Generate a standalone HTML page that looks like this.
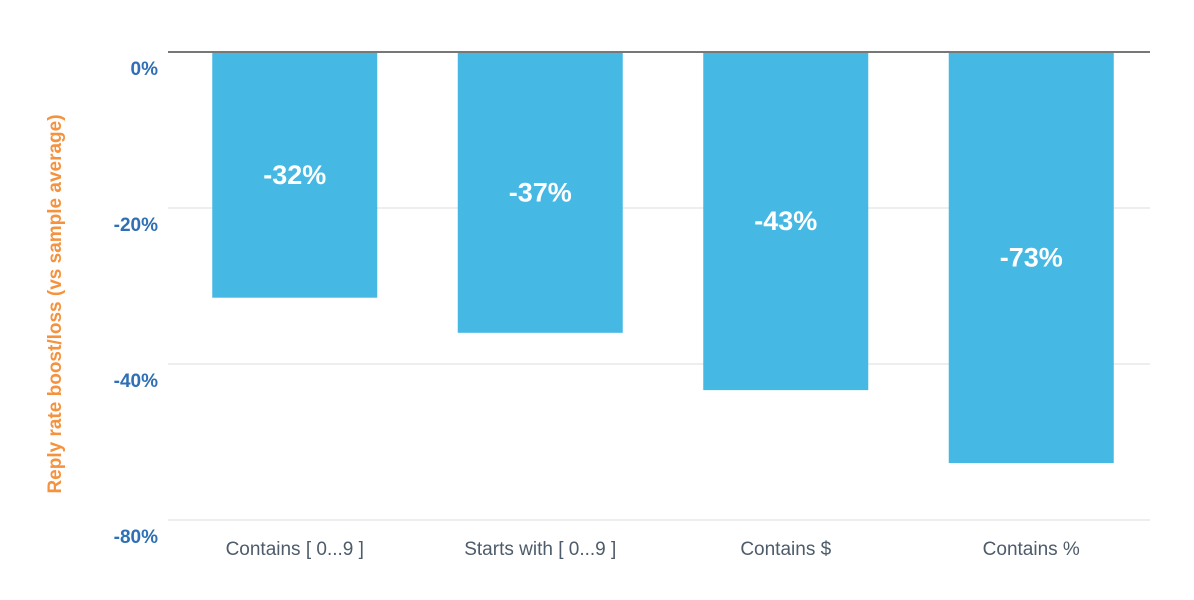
<!DOCTYPE html>
<html><head><meta charset="utf-8"><style>
body{margin:0;background:#fff;font-family:"Liberation Sans",sans-serif}
svg text{font-family:"Liberation Sans",sans-serif}
</style></head><body>
<svg width="1194" height="595" xmlns="http://www.w3.org/2000/svg">
<g id="grid"></g><g id="bars"></g><g id="labels"></g>
<text transform="translate(61,304) rotate(-90)" text-anchor="middle" font-size="19" font-weight="bold" fill="#f5923e">Reply rate boost/loss (vs sample average)</text>
</svg>
<script>
const categories=["Contains [ 0...9 ]","Starts with [ 0...9 ]","Contains $","Contains %"];
const values=[-31.5,-36,-46.7,-65.4];
const valueLabels=["-32%","-37%","-43%","-73%"];
const ticks=[0,-20,-40,-80];
const tickLabels=["0%","-20%","-40%","-80%"];
const NS="http://www.w3.org/2000/svg";
const top0=52,step=156,x0=168,x1=1150,band=245.5,barW=165;
function y(v){ // piecewise scale across equally spaced ticks
  for(let i=0;i<ticks.length-1;i++){
    if(v>=ticks[i+1]){return top0+step*(i+(ticks[i]-v)/(ticks[i]-ticks[i+1]));}
  }
  return top0+step*(ticks.length-1);
}
function xc(i){return x0+band*(i+0.5)+4;}
function mk(t,a,p){const e=document.createElementNS(NS,t);for(const k in a)e.setAttribute(k,a[k]);p.appendChild(e);return e;}
const g=document.getElementById('grid'),b=document.getElementById('bars'),l=document.getElementById('labels');
ticks.forEach((t,i)=>{
  const ln=mk('line',{x1:x0,x2:x1,y1:y(t),y2:y(t),stroke:t===0?'#777':'#ddd','stroke-width':t===0?2:1},g);
  
  
  const tx=mk('text',{x:158,y:y(t)+23,'text-anchor':'end','font-size':19,'font-weight':'bold',fill:'#2e6fb5'},g);
  tx.textContent=tickLabels[i];
  
  
});
g.appendChild(g.firstChild);
categories.forEach((c,i)=>{
  const yb=y(values[i]);
  const r=mk('rect',{x:xc(i)-barW/2,y:top0,width:barW,height:yb-top0,fill:'#45b8e3'},b);
  
  
  const v=mk('text',{x:xc(i),y:(top0+yb)/2+9,'text-anchor':'middle','font-size':27,'font-weight':'bold',fill:'#fff'},l);
  v.textContent=valueLabels[i];
  
  
  const t=mk('text',{x:xc(i),y:555,'text-anchor':'middle','font-size':19,fill:'#4d5b6a'},l);
  t.textContent=c;
  
  
});
const zl=mk('line',{x1:x0,x2:x1,y1:top0,y2:top0,stroke:'#777','stroke-width':2},l);


</script>
</body></html>
